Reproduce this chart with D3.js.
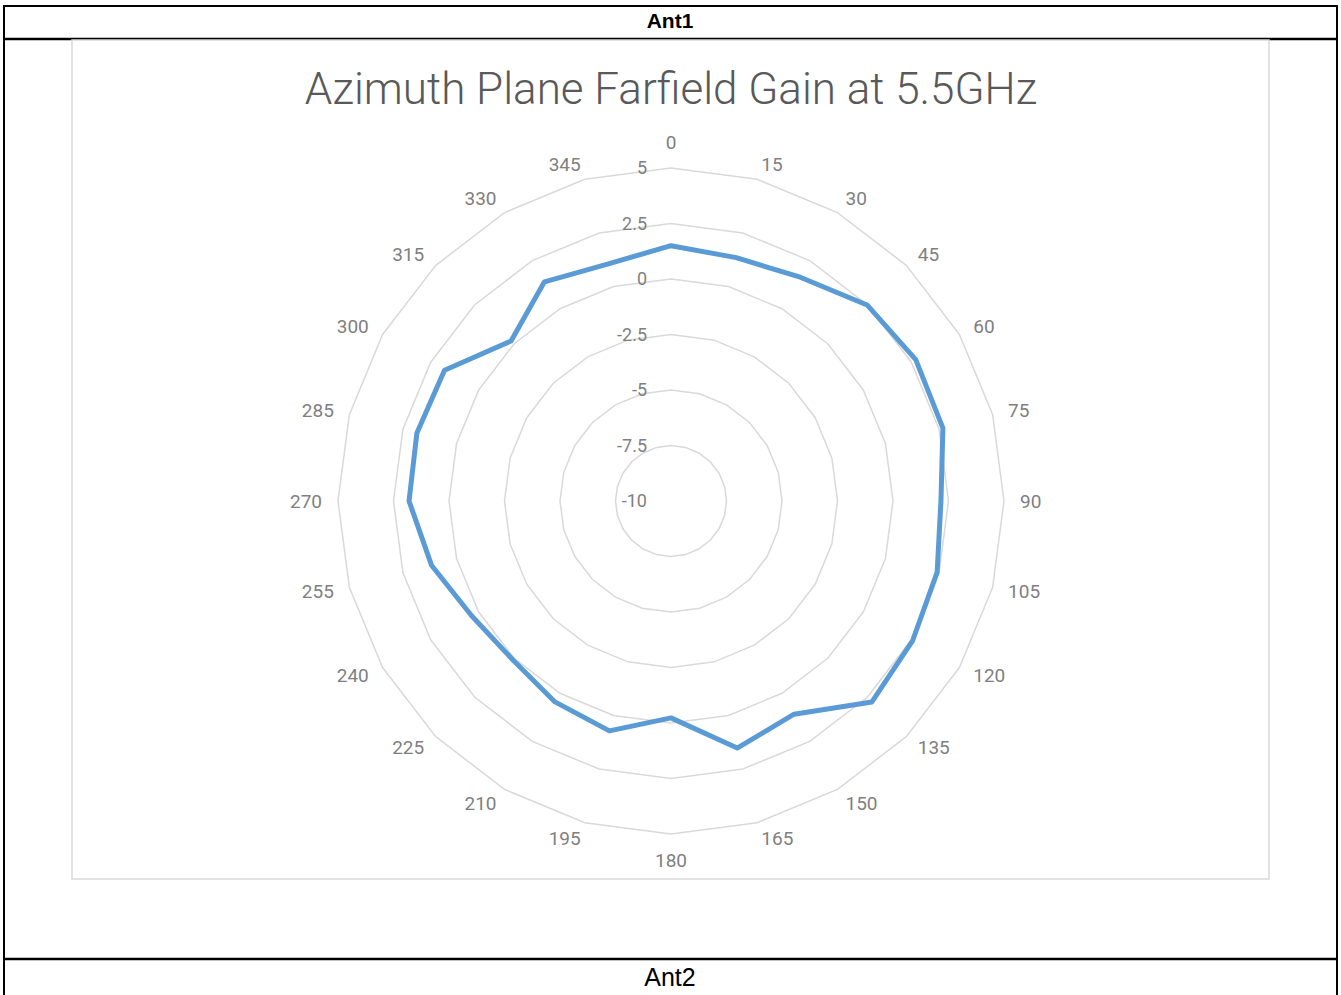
<!DOCTYPE html>
<html>
<head>
<meta charset="utf-8">
<script src="https://cdn.jsdelivr.net/npm/d3@7"></script>
<style>
  html, body { margin: 0; padding: 0; background: #fff; }
  svg { display: block; }
</style>
</head>
<body>
<svg id="page"></svg>
<script>
// azimuth angles (deg) and gain (dBi)
const angles = [0, 15, 30, 45, 60, 75, 90, 105, 120, 135, 150, 165,
                180, 195, 210, 225, 240, 255, 270, 285, 300, 315, 330, 345];
const gain = [1.5, 1.35, 1.64, 2.49, 2.73, 2.68, 2.16, 2.41, 2.57, 2.8, 1.09, 1.52,
              -0.23, 0.72, 0.45, 0.1, 0.36, 1.17, 1.8, 1.85, 1.78, 0.19, 1.4, 1.05];
const ringTicks = [-7.5, -5, -2.5, 0, 2.5, 5];
const tickLabels = ["-10", "-7.5", "-5", "-2.5", "0", "2.5", "5"];
const tickValues = [-10, -7.5, -5, -2.5, 0, 2.5, 5];

const W = 1341, H = 995;
const svg = d3.select("#page").attr("width", W).attr("height", H);

// table frame
const black = "#000";
svg.append("rect").attr("x", 4).attr("y", 6).attr("width", 1333).attr("height", 1000)
    .attr("fill", "none").attr("stroke", black).attr("stroke-width", 2);
svg.append("line").attr("x1", 4).attr("x2", 1337).attr("y1", 39).attr("y2", 39)
    .attr("stroke", black).attr("stroke-width", 2.5);
svg.append("line").attr("x1", 4).attr("x2", 1337).attr("y1", 959).attr("y2", 959)
    .attr("stroke", black).attr("stroke-width", 2.5);
svg.append("text").attr("x", 670).attr("y", 28).attr("text-anchor", "middle")
    .style("font-family", "Liberation Sans, Arial, sans-serif").style("font-weight", "bold")
    .style("font-size", "21px").text("Ant1");
svg.append("text").attr("x", 670).attr("y", 986).attr("text-anchor", "middle")
    .style("font-family", "Liberation Sans, Arial, sans-serif")
    .style("font-size", "25px").text("Ant2");

// chart area
svg.append("rect").attr("x", 72).attr("y", 40).attr("width", 1197).attr("height", 839)
    .attr("fill", "#fff").attr("stroke", "#d9d9d9").attr("stroke-width", 1.5);

svg.append("text").attr("x", 671).attr("y", 104).attr("text-anchor", "middle")
    .style("font-family", "Roboto, sans-serif").style("font-weight", 300)
    .style("font-size", "44px").attr("fill", "#595959")
    .text("Azimuth Plane Farfield Gain at 5.5GHz");

const cx = 671, cy = 501;
const r = d3.scaleLinear().domain([-10, 5]).range([0, 333]);
const a = d3.scaleLinear().domain([0, 360]).range([0, 2 * Math.PI]);
const labelR = 349;

const g = svg.append("g").attr("transform", `translate(${cx},${cy})`);

// grid rings (24-sided polygons)
ringTicks.forEach(v => {
    const line = d3.lineRadial().curve(d3.curveLinearClosed)
        .angle(d => a(d)).radius(() => r(v));
    g.append("path").attr("d", line(angles))
        .attr("fill", "none").attr("stroke", "#d9d9d9").attr("stroke-width", 1.5);
});

// value labels along the 0 spoke
g.selectAll(".tick").data(tickValues).enter().append("text")
    .attr("class", "tick")
    .attr("x", -24).attr("y", d => -r(d)).attr("dy", "0.35em")
    .attr("text-anchor", "end")
    .style("font-family", "Roboto, sans-serif").style("font-size", "18px")
    .attr("fill", "#7f7f7f")
    .text((d, i) => tickLabels[i]);

// angle labels, placed beside the spoke end like Excel does
g.selectAll(".ang").data(angles).enter().append("text")
    .attr("class", "ang")
    .attr("x", d => Math.sin(a(d)) * labelR)
    .attr("y", d => -Math.cos(a(d)) * labelR + (d === 0 ? -10 : d === 180 ? 10 : 0))
    .attr("dy", "0.35em")
    .attr("text-anchor", d => (d === 0 || d === 180) ? "middle" : d < 180 ? "start" : "end")
    .style("font-family", "Roboto, sans-serif").style("font-size", "19px")
    .attr("fill", "#7f7f7f")
    .text(d => d);

// gain trace
const trace = d3.lineRadial().curve(d3.curveLinearClosed)
    .angle((d, i) => a(angles[i])).radius(d => r(d));
g.append("path").attr("d", trace(gain))
    .attr("fill", "none").attr("stroke", "#5b9bd5").attr("stroke-width", 5)
    .attr("stroke-linejoin", "round");
</script>
</body>
</html>
